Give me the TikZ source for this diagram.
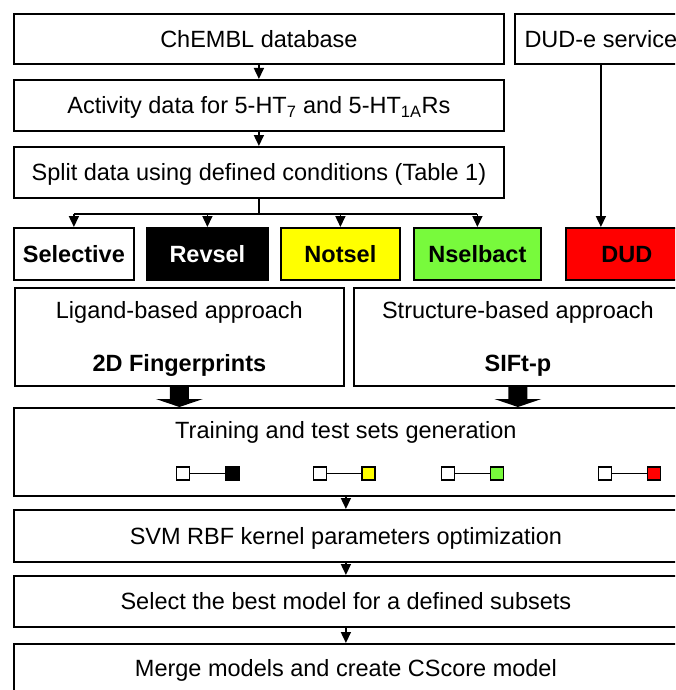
\documentclass[tikz,border=0pt]{standalone}
\usepackage{fontspec}
\setmainfont{Liberation Sans}
\usetikzlibrary{arrows.meta,calc}
\definecolor{myyellow}{RGB}{255,255,0}
\definecolor{mygreen}{RGB}{120,250,60}
\definecolor{myred}{RGB}{255,0,0}
\begin{document}
\begin{tikzpicture}[x=1pt,y=-1pt,
  box/.style={draw=black,line width=1.8pt,fill=white,inner sep=0pt,
    font=\fontsize{23.5}{28}\selectfont,text height=17pt,text depth=0pt,anchor=north west},
  lbl/.style={inner sep=0pt,font=\fontsize{23.5}{28}\selectfont,text height=17pt,text depth=0pt},
  arr/.style={line width=1.6pt,-{Triangle[width=10pt,length=11pt]}},
  conn/.style={line width=1.6pt},
  sq/.style={draw=black,line width=1.8pt,minimum size=13pt,inner sep=0pt},
  pairline/.style={line width=1.4pt}
]
\useasboundingbox (0,0) rectangle (675,690);
\clip (0,0) rectangle (675,690);

% top column
\node[box,minimum width=490pt,minimum height=50pt] (chembl) at (13,13) {ChEMBL database};
\node[box,minimum width=172pt,minimum height=50pt] (dude) at (514,13) {DUD-e service};
\node[box,minimum width=490pt,minimum height=51pt] (act) at (13,79)
  {Activity data for 5-HT\textsubscript{7} and 5-HT\textsubscript{1A}Rs};
\node[box,minimum width=490pt,minimum height=51pt] (split) at (13,146)
  {Split data using defined conditions (Table 1)};

% subset boxes
\node[box,minimum width=120pt,minimum height=52pt,font=\fontsize{23.5}{28}\selectfont\bfseries] (sel) at (13,227) {Selective};
\node[box,minimum width=121pt,minimum height=52pt,fill=black,text=white,font=\fontsize{23.5}{28}\selectfont\bfseries] (rev) at (146,227) {Revsel};
\node[box,minimum width=119pt,minimum height=52pt,fill=myyellow,font=\fontsize{23.5}{28}\selectfont\bfseries] (nots) at (280,227) {Notsel};
\node[box,minimum width=127pt,minimum height=52pt,fill=mygreen,font=\fontsize{23.5}{28}\selectfont\bfseries] (nsel) at (413,227) {Nselbact};
\node[box,minimum width=122pt,minimum height=52pt,fill=myred,font=\fontsize{23.5}{28}\selectfont\bfseries] (dud) at (565,227) {DUD};

% approach boxes
\node[box,minimum width=329pt,minimum height=98pt] (lig) at (14,287) {};
\node[box,minimum width=328pt,minimum height=98pt] (str) at (353,287) {};
\node[lbl] (ligt) at ($(lig.north)+(0,23)$) {Ligand-based approach};
\node[lbl,font=\fontsize{23.5}{28}\selectfont\bfseries] (ligb) at ($(lig.north)+(0,76)$) {2D Fingerprints};
\node[lbl] (strt) at ($(str.north)+(0,23)$) {Structure-based approach};
\node[lbl,font=\fontsize{23.5}{28}\selectfont\bfseries] (strb) at ($(str.north)+(0,76)$) {SIFt-p};

% lower column
\node[box,minimum width=664pt,minimum height=88pt] (train) at (13,407) {};
\node[lbl] (traint) at ($(train.north)+(0,23)$) {Training and test sets generation};
\node[box,minimum width=664pt,minimum height=52pt] (svm) at (13,509) {SVM RBF kernel parameters optimization};
\node[box,minimum width=664pt,minimum height=51pt] (best) at (13,575) {Select the best model for a defined subsets};
\node[box,minimum width=664pt,minimum height=48pt] (merge) at (13,643) {Merge models and create CScore model};

% pairs of squares
\node[sq,fill=white] (p1a) at (183,473.5) {};
\node[sq,fill=black] (p1b) at (232.5,473.5) {};
\node[sq,fill=white] (p2a) at (320,473.5) {};
\node[sq,fill=myyellow] (p2b) at (368.5,473.5) {};
\node[sq,fill=white] (p3a) at (448,473.5) {};
\node[sq,fill=mygreen] (p3b) at (497,473.5) {};
\node[sq,fill=white] (p4a) at (605,473.5) {};
\node[sq,fill=myred] (p4b) at (654,473.5) {};
\draw[pairline] (p1a) -- (p1b);
\draw[pairline] (p2a) -- (p2b);
\draw[pairline] (p3a) -- (p3b);
\draw[pairline] (p4a) -- (p4b);

% connectors top
\draw[arr] (chembl.south) -- (act.north);
\draw[arr] (act.south) -- (split.north);
\draw[conn] (split.south) -- ++(0,15) coordinate (fan);
\draw[conn] (sel.north |- fan) -- (nsel.north |- fan);
\draw[arr] (sel.north |- fan) -- (sel.north);
\draw[arr] (rev.north |- fan) -- (rev.north);
\draw[arr] (nots.north |- fan) -- (nots.north);
\draw[arr] (nsel.north |- fan) -- (nsel.north);
\draw[arr] (dude.south) -- (dude.south |- dud.north);

% block arrows
\coordinate (la) at (lig.south);
\coordinate (lb) at (lig.south |- train.north);
\fill ($(la)+(-9.5,0)$) -- ($(lb)+(-9.5,-8)$) -- ($(lb)+(-23.5,-8)$) -- (lb) -- ($(lb)+(23.5,-8)$) -- ($(lb)+(9.5,-8)$) -- ($(la)+(9.5,0)$) -- cycle;
\coordinate (ra) at (str.south);
\coordinate (rb) at (str.south |- train.north);
\fill ($(ra)+(-9.5,0)$) -- ($(rb)+(-9.5,-8)$) -- ($(rb)+(-23.5,-8)$) -- (rb) -- ($(rb)+(23.5,-8)$) -- ($(rb)+(9.5,-8)$) -- ($(ra)+(9.5,0)$) -- cycle;

% connectors bottom
\draw[arr] (train.south) -- (svm.north);
\draw[arr] (svm.south) -- (best.north);
\draw[arr] (best.south) -- (merge.north);
\end{tikzpicture}
\end{document}
